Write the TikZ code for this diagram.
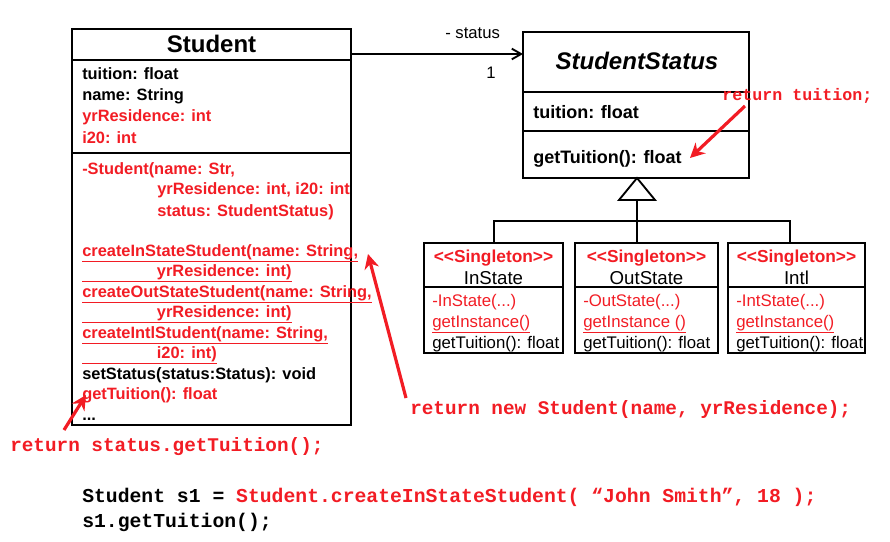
\documentclass[tikz,border=0pt]{standalone}
\usepackage{fontspec}
\setmainfont{Liberation Sans}
\newfontfamily\cour{Liberation Mono}
\usetikzlibrary{arrows.meta}
\definecolor{rd}{HTML}{F21C24}
\tikzset{
 box/.style={draw,line width=1.4pt},
 ln/.style={anchor=base west,inner sep=0pt,font=\fontsize{12.3}{14}\selectfont\bfseries},
 sl/.style={anchor=base west,inner sep=0pt,font=\fontsize{12.6}{14}\selectfont},
 rl/.style={ln,text=rd},
 code/.style={anchor=base west,inner sep=0pt,font=\cour\bfseries\fontsize{14.5}{16}\selectfont},
 redarr/.style={draw=rd,line width=2.4pt,-{Stealth[length=11pt,width=11pt]}},
}
\newcommand{\ul}[1]{\underline{#1}}
\newcommand{\dd}{...}
\begin{document}
\begin{tikzpicture}[x=0.75pt,y=-0.75pt]
\useasboundingbox (0,0) rectangle (890,542);
% Student
\draw[box] (72,29) rectangle (351,425);
\draw[box] (72,60) -- (351,60);
\draw[box] (72,153) -- (351,153);
\node[anchor=base,font=\fontsize{18}{20}\selectfont\bfseries] (st) at (211.5,53) {Student};
\node[ln] (a1) at (82,80) {tuition: float};
\node[ln] (a2) at (82,101) {name: String};
\node[rl] (a3) at (82,122) {yrResidence: int};
\node[rl] (a4) at (82,143) {i20: int};
\node[rl] (m1) at (82,175) {-Student(name: Str,};
\node[rl] (m2) at (157,195) {yrResidence: int, i20: int};
\node[rl] (m3) at (157,216) {status: StudentStatus)};
\node[rl] (m4) at (82,256) {\ul{createInStateStudent(name: String,}};
\node[rl] (m5) at (82,276) {\ul{\hspace{56pt}yrResidence: int)}};
\node[rl] (m6) at (82,297) {\ul{createOutStateStudent(name: String,}};
\node[rl] (m7) at (82,317) {\ul{\hspace{56pt}yrResidence: int)}};
\node[rl] (m8) at (82,338) {\ul{createIntlStudent(name: String,}};
\node[rl] (m9) at (82,358) {\ul{\hspace{56pt}i20: int)}};
\node[ln] (m10) at (82,379) {setStatus(status:Status): void};
\node[rl] (m11) at (82,399) {getTuition(): float};
\node[ln] (m12) at (82,420) {\dd};
% StudentStatus
\draw[box] (523,32) rectangle (749,178);
\draw[box] (523,92) -- (749,92);
\draw[box] (523,131) -- (749,131);
\node[anchor=base,font=\fontsize{18}{20}\selectfont\bfseries\itshape] (ss) at (637,70) {StudentStatus};
\node[ln,font=\fontsize{13.5}{15}\selectfont\bfseries] (s1) at (533,119) {tuition: float};
\node[ln,font=\fontsize{13.5}{15}\selectfont\bfseries] (s2) at (533,164) {getTuition(): float};
\coordinate (sa) at (351,54);
\coordinate (sb) at (523,54);
\draw[line width=1.4pt,-{Straight Barb[length=7pt,width=8pt]}] (sa) -- (sb);
\node[sl,font=\fontsize{12.5}{14}\selectfont] (lab1) at (445,39) {- status};
\node[sl,font=\fontsize{12.5}{14}\selectfont] (lab2) at (486,79) {1};
% inheritance
\coordinate (tip) at (637,178);
\coordinate (bl) at (619,200);
\coordinate (br) at (655,200);
\draw[line width=1.4pt] (tip) -- (bl) -- (br) -- cycle;
\draw[line width=1.4pt] (637,200) -- (637,243);
\draw[line width=1.4pt] (494,243) -- (494,221) -- (790,221) -- (790,243);
% singletons
\foreach \xl/\xr/\nm/\cons/\gi [count=\i] in {424/563/InState/{-InState(\dd)}/{getInstance()},575/718/OutState/{-OutState(\dd)}/{getInstance ()},728/865/Intl/{-IntState(\dd)}/{getInstance()}}{
 \draw[box] (\xl,243) rectangle (\xr,353);
 \draw[box] (\xl,287) -- (\xr,287);
 \node[anchor=base,inner sep=0pt,font=\fontsize{13}{15}\selectfont\bfseries,text=rd] (sg\i) at ({(\xl+\xr)/2},262) {{<}{<}Singleton{>}{>}};
 \node[anchor=base,inner sep=0pt,font=\fontsize{14}{16}\selectfont] (nm\i) at ({(\xl+\xr)/2},284) {\nm};
 \node[sl,text=rd] (c\i) at (\xl+8,306) {\cons};
 \node[sl,text=rd] (g\i) at (\xl+8,327) {\ul{\gi}};
 \node[sl] (t\i) at (\xl+8,348) {getTuition(): float};
}
% red annotations
\node[code,text=rd,font=\cour\bfseries\fontsize{12.5}{14}\selectfont] (r1) at (722,101) {return tuition;};
\coordinate (r1s) at (745,106);
\coordinate (r1e) at (690,158);
\draw[redarr] (r1s) -- (r1e);
\node[code,text=rd] (r2) at (410,414) {return new Student(name, yrResidence);};
\coordinate (r2s) at (406,398);
\coordinate (r2e) at (368,254);
\draw[redarr] (r2s) -- (r2e);
\node[code,text=rd] (r3) at (10,451) {return status.getTuition();};
\coordinate (r3s) at (64,430);
\coordinate (r3e) at (86,395);
\draw[redarr] (r3s) -- (r3e);
\node[code,font=\cour\bfseries\fontsize{14.8}{16}\selectfont] (b1) at (82,502) {Student s1 = \textcolor{rd}{Student.createInStateStudent( “John Smith”, 18 );}};
\node[code,font=\cour\bfseries\fontsize{14.8}{16}\selectfont] (b2) at (82,527) {s1.getTuition();};
\end{tikzpicture}
\end{document}
